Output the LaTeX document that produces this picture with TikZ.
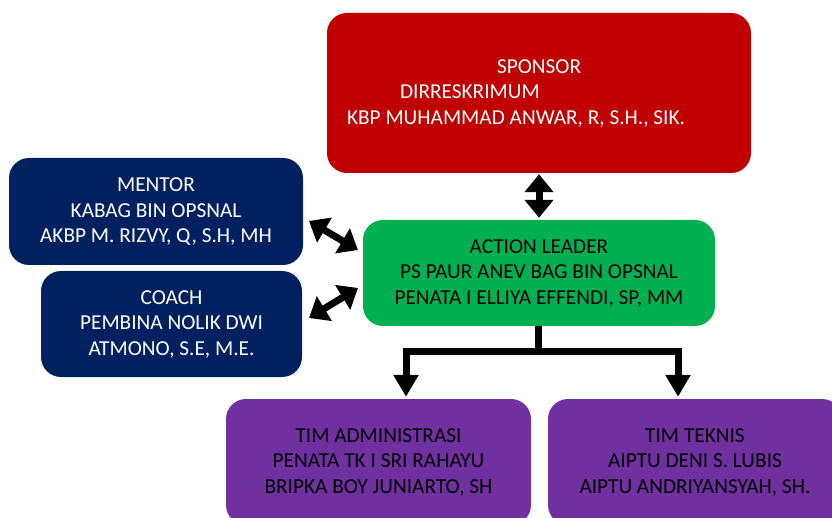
\documentclass[tikz,border=0pt]{standalone}
\usepackage{fontspec}
\setmainfont{Carlito}
\usetikzlibrary{arrows.meta}

\definecolor{sponsorred}{HTML}{C00000}
\definecolor{mentornavy}{HTML}{002060}
\definecolor{leadergreen}{HTML}{00B050}
\definecolor{timpurple}{HTML}{7030A0}

\tikzset{
  orgbox/.style={rectangle, rounded corners=20pt, inner sep=0pt, align=center,
    font=\fontsize{21.3pt}{25.5pt}\selectfont},
  fatarrow/.style={line width=7pt, -{Triangle[width=24pt,length=22pt]}},
  fatdouble/.style={line width=7pt, {Triangle[width=28pt,length=18pt]}-{Triangle[width=28pt,length=18pt]}},
}

\begin{document}
\begin{tikzpicture}[x=1pt,y=1pt,yscale=-1,xscale=1]
\clip (0,0) rectangle (832,518);
\useasboundingbox (0,0) rectangle (832,518);

% Boxes
\node [orgbox, fill=sponsorred, text=white, minimum width=424pt, minimum height=160pt,
  align=left] (sponsor) at (539,93)
  {\hspace*{150pt}SPONSOR\\\hspace*{53pt}DIRRESKRIMUM\\KBP MUHAMMAD ANWAR, R, S.H., SIK.\hspace*{46pt}};
\node [orgbox, fill=mentornavy, text=white, minimum width=294pt, minimum height=107pt] (mentor) at (156,211.5)
  {MENTOR\\KABAG BIN OPSNAL\\AKBP M. RIZVY, Q, S.H, MH};
\node [orgbox, fill=mentornavy, text=white, minimum width=261pt, minimum height=106pt] (coach) at (171.5,324)
  {COACH\\PEMBINA NOLIK DWI\\ATMONO, S.E, M.E.};
\node [orgbox, fill=leadergreen, minimum width=352pt, minimum height=106pt] (leader) at (539,273)
  {ACTION LEADER\\PS PAUR ANEV BAG BIN OPSNAL\\PENATA I ELLIYA EFFENDI, SP, MM};
\node [orgbox, fill=timpurple, minimum width=305pt, minimum height=126pt] (admin) at (378.5,462)
  {TIM ADMINISTRASI\\PENATA TK I SRI RAHAYU\\BRIPKA BOY JUNIARTO, SH};
\node [orgbox, fill=timpurple, minimum width=294pt, minimum height=126pt] (teknis) at (695,462)
  {TIM TEKNIS\\AIPTU DENI S. LUBIS\\AIPTU ANDRIYANSYAH, SH.};

% Arrow ends
\coordinate (mentorend) at (309,221);
\coordinate (mentorleader) at (358,250);
\coordinate (coachend) at (309,318);
\coordinate (coachleader) at (358,288);
\coordinate (split) at (538,351.5);

% Connectors
\draw [fatdouble] ([yshift=1pt]sponsor.south) -- ([yshift=-2pt]leader.north);
\draw [fatdouble] (mentorend) -- (mentorleader);
\draw [fatdouble] (coachend) -- (coachleader);
\draw [line width=7pt] (leader.south -| split) -- (split);
\draw [fatarrow] (split) -| ([yshift=-2pt]admin.north -| 406,0);
\draw [fatarrow] (split) -| ([yshift=-2pt]teknis.north -| 678,0);

\end{tikzpicture}
\end{document}
